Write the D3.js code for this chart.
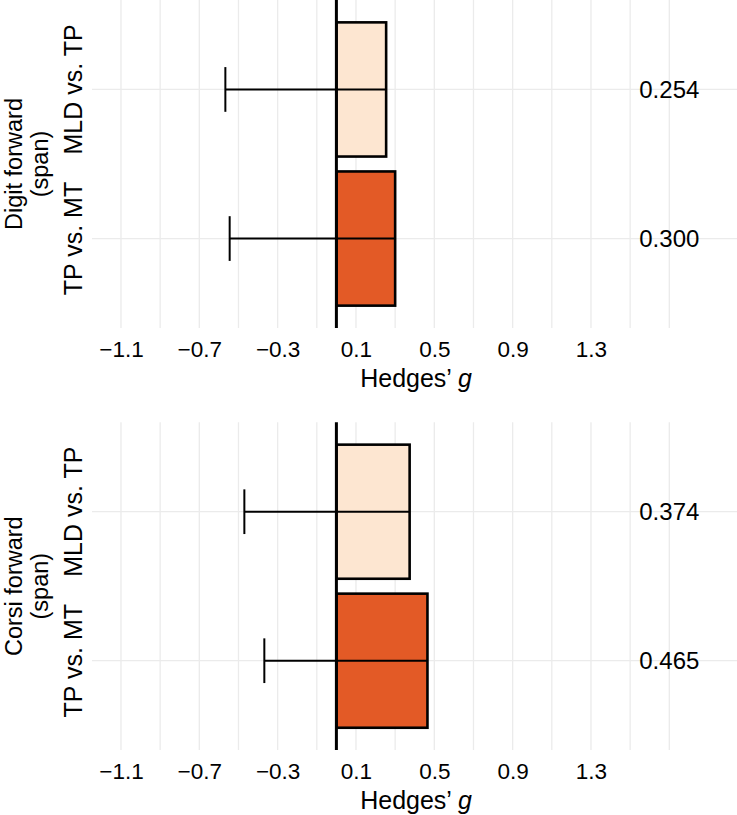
<!DOCTYPE html>
<html>
<head>
<meta charset="utf-8">
<script src="https://cdn.jsdelivr.net/npm/d3@7"></script>
<style>
  html, body { margin: 0; padding: 0; background: #fff; }
  svg { display: block; }
  text { font-family: "Liberation Sans", Arial, Helvetica, sans-serif; fill: #000; }
</style>
</head>
<body>
<svg id="chart" width="737" height="815"></svg>
<script>
// ---- data ----
const panelLabels = [["Digit forward", "(span)"], ["Corsi forward", "(span)"]];
const comparisons = ["MLD vs. TP", "TP vs. MT"];
const digitG = [0.254, 0.300];
const digitLower = [-0.567, -0.545];
const corsiG = [0.374, 0.465];
const corsiLower = [-0.470, -0.368];
const tickValues = [-1.1, -0.7, -0.3, 0.1, 0.5, 0.9, 1.3];
const minorValues = [-0.9, -0.5, -0.1, 0.3, 0.7, 1.1, 1.5, 1.7];
const labelPosition = 1.7;
const fills = ["#FDE6D1", "#E35A26"];

const panels = [
  { label: panelLabels[0], g: digitG, lower: digitLower, top: 0, bottom: 328 },
  { label: panelLabels[1], g: corsiG, lower: corsiLower, top: 422.3, bottom: 750.1 }
];

const svg = d3.select("#chart");
const x = d3.scaleLinear().domain([-1.248, 2.061]).range([92, 740]);

panels.forEach(p => {
  const gp = svg.append("g");
  const y = d3.scaleBand().domain(comparisons).range([p.top, p.bottom])
    .paddingInner(0.1).paddingOuter(0.15);
  const rows = comparisons.map((c, i) => ({ c, g: p.g[i], lo: p.lower[i], fill: fills[i] }));

  // grid
  gp.selectAll(".vgrid").data(tickValues.concat(minorValues)).join("line")
    .attr("x1", d => x(d)).attr("x2", d => x(d))
    .attr("y1", p.top).attr("y2", p.bottom)
    .attr("stroke", "#ebebeb").attr("stroke-width", 1.3);
  gp.selectAll(".hgrid").data(comparisons).join("line")
    .attr("x1", x.range()[0]).attr("x2", x.range()[1])
    .attr("y1", d => y(d) + y.bandwidth() / 2).attr("y2", d => y(d) + y.bandwidth() / 2)
    .attr("stroke", "#ebebeb").attr("stroke-width", 1.3);

  // bars
  gp.selectAll(".bar").data(rows).join("rect")
    .attr("x", d => x(Math.min(0, d.g)))
    .attr("width", d => Math.abs(x(d.g) - x(0)))
    .attr("y", d => y(d.c)).attr("height", y.bandwidth())
    .attr("fill", d => d.fill).attr("stroke", "#000").attr("stroke-width", 2.6);

  // error bars (lower whisker to estimate)
  const wh = y.step() * 0.3 / 2;
  gp.selectAll(".eb").data(rows).join("line")
    .attr("x1", d => x(d.lo)).attr("x2", d => x(d.g))
    .attr("y1", d => y(d.c) + y.bandwidth() / 2).attr("y2", d => y(d.c) + y.bandwidth() / 2)
    .attr("stroke", "#000").attr("stroke-width", 2);
  gp.selectAll(".ebw").data(rows).join("line")
    .attr("x1", d => x(d.lo)).attr("x2", d => x(d.lo))
    .attr("y1", d => y(d.c) + y.bandwidth() / 2 - wh).attr("y2", d => y(d.c) + y.bandwidth() / 2 + wh)
    .attr("stroke", "#000").attr("stroke-width", 2);

  // zero line
  gp.append("line")
    .attr("x1", x(0)).attr("x2", x(0)).attr("y1", p.top).attr("y2", p.bottom)
    .attr("stroke", "#000").attr("stroke-width", 3);

  // value labels
  gp.selectAll(".val").data(rows).join("text")
    .attr("x", x(labelPosition)).attr("y", d => y(d.c) + y.bandwidth() / 2)
    .attr("dy", "0.36em").attr("text-anchor", "middle")
    .style("font-size", "24px")
    .text(d => d3.format(".3f")(d.g));

  // x axis
  const ax = gp.append("g").attr("transform", `translate(0,${p.bottom})`)
    .call(d3.axisBottom(x).tickValues(tickValues).tickSize(0).tickPadding(13)
      .tickFormat(d3.format(".1f")));
  ax.select(".domain").remove();
  ax.selectAll("text").style("font-size", "22.5px").style("font-family", "'Liberation Sans', Arial, sans-serif").attr("fill", "#000");

  // x title
  const t = gp.append("text")
    .attr("x", (x.range()[0] + x.range()[1]) / 2).attr("y", p.bottom + 59)
    .attr("text-anchor", "middle").style("font-size", "25px");
  t.append("tspan").text("Hedges\u2019 ");
  t.append("tspan").style("font-style", "italic").text("g");

  // y category labels
  gp.selectAll(".ylab").data(comparisons).join("text")
    .attr("transform", d => `translate(81.5,${y(d) + y.bandwidth() / 2}) rotate(-90)`)
    .attr("text-anchor", "middle").style("font-size", "25px")
    .text(d => d);

  // panel label
  const pl = gp.append("text")
    .attr("transform", `translate(21.5,${(p.top + p.bottom) / 2}) rotate(-90)`)
    .attr("text-anchor", "middle").style("font-size", "23.5px");
  p.label.forEach((s, i) => {
    pl.append("tspan").attr("x", 0).attr("dy", i === 0 ? 0 : 26.5).text(s);
  });
});
</script>
</body>
</html>
